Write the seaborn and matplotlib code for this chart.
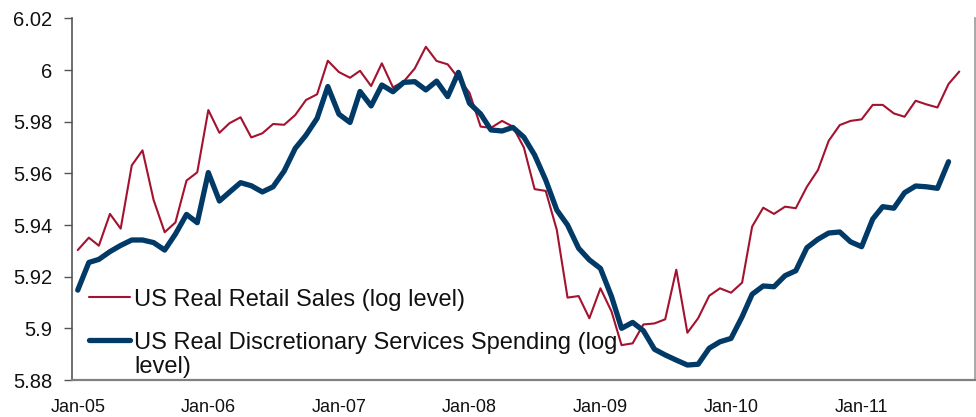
import numpy as np
import pandas as pd
import matplotlib
matplotlib.use("Agg")
import matplotlib.pyplot as plt
import matplotlib.dates as mdates
from matplotlib.ticker import FuncFormatter, FixedLocator
import seaborn as sns

# Monthly log levels, starting Jan 2005
retail_sales = [
    5.9303, 5.9351, 5.9320, 5.9443, 5.9386, 5.9631, 5.9689, 5.9497, 5.9372, 5.9410,
    5.9572, 5.9604, 5.9845, 5.9757, 5.9794, 5.9817, 5.9739, 5.9755, 5.9791, 5.9788,
    5.9826, 5.9884, 5.9906, 6.0036, 5.9992, 5.9970, 5.9997, 5.9938, 6.0026, 5.9933,
    5.9955, 6.0006, 6.0090, 6.0035, 6.0022, 5.9969, 5.9912, 5.9781, 5.9776, 5.9803,
    5.9781, 5.9700, 5.9539, 5.9532, 5.9381, 5.9119, 5.9125, 5.9039, 5.9155, 5.9065,
    5.8935, 5.8942, 5.9015, 5.9019, 5.9035, 5.9227, 5.8983, 5.9039, 5.9126, 5.9155,
    5.9138, 5.9177, 5.9394, 5.9467, 5.9443, 5.9471, 5.9465, 5.9548, 5.9613, 5.9726,
    5.9787, 5.9803, 5.9809, 5.9865, 5.9865, 5.9832, 5.9819, 5.9881, 5.9867, 5.9855,
    5.9946, 5.9994,
]
discretionary_services = [
    5.9148, 5.9255, 5.9267, 5.9297, 5.9321, 5.9342, 5.9342, 5.9332, 5.9303, 5.9365,
    5.9441, 5.9409, 5.9603, 5.9493, 5.9527, 5.9564, 5.9552, 5.9528, 5.9548, 5.9609,
    5.9697, 5.9748, 5.9813, 5.9936, 5.9829, 5.9797, 5.9917, 5.9861, 5.9942, 5.9916,
    5.9952, 5.9955, 5.9923, 5.9957, 5.9897, 5.9991, 5.9871, 5.9830, 5.9768, 5.9764,
    5.9778, 5.9740, 5.9671, 5.9574, 5.9458, 5.9400, 5.9310, 5.9265, 5.9232, 5.9123,
    5.9000, 5.9023, 5.8991, 5.8919, 5.8897, 5.8877, 5.8858, 5.8861, 5.8923, 5.8948,
    5.8961, 5.9045, 5.9132, 5.9164, 5.9161, 5.9204, 5.9223, 5.9312, 5.9345, 5.9369,
    5.9373, 5.9335, 5.9316, 5.9423, 5.9471, 5.9465, 5.9525, 5.9551, 5.9548, 5.9542,
    5.9645,
]
retail_label = "US Real Retail Sales (log level)"
services_label = "US Real Discretionary Services Spending (log\nlevel)"
y_ticks = [5.88, 5.90, 5.92, 5.94, 5.96, 5.98, 6.00, 6.02]
x_tick_years = [2005, 2006, 2007, 2008, 2009, 2010, 2011]

retail_df = pd.DataFrame({
    "date": pd.date_range("2005-01-01", periods=len(retail_sales), freq="MS"),
    "value": retail_sales,
})
services_df = pd.DataFrame({
    "date": pd.date_range("2005-01-01", periods=len(discretionary_services), freq="MS"),
    "value": discretionary_services,
})

sns.set_theme(style="white")
plt.rcParams["font.family"] = ["Liberation Sans", "DejaVu Sans"]

fig = plt.figure(figsize=(9.76, 4.17), dpi=100)
ax = fig.add_axes([0.0738, 0.0887, 0.9252, 0.8673])

red = "#A3122F"
navy = "#013A67"
sns.lineplot(data=retail_df, x="date", y="value", ax=ax, color=red,
             linewidth=1.5, label=retail_label)
sns.lineplot(data=services_df, x="date", y="value", ax=ax, color=navy,
             linewidth=3.8, label=services_label)

ax.set_ylim(5.88, 6.02)
ax.set_xlim(pd.Timestamp("2004-12-16"), pd.Timestamp("2011-11-14"))
ax.yaxis.set_major_locator(FixedLocator(y_ticks))
ax.yaxis.set_major_formatter(FuncFormatter(lambda v, _: f"{v:g}"))
ax.xaxis.set_major_locator(FixedLocator(
    [mdates.date2num(pd.Timestamp(f"{yr}-01-01")) for yr in x_tick_years]))
ax.xaxis.set_major_formatter(mdates.DateFormatter("%b-%y"))
ax.set_xlabel("")
ax.set_ylabel("")

ax.tick_params(axis="y", which="major", direction="out", length=6, width=1,
               color="#555555", labelsize=14.5, pad=8, left=True, labelcolor="#111111")
ax.tick_params(axis="x", which="major", length=0, labelsize=13, pad=14,
               labelcolor="#111111")

ax.spines["top"].set_visible(False)
ax.spines["left"].set_color("#555555")
ax.spines["left"].set_linewidth(1.2)
ax.spines["bottom"].set_color("#808080")
ax.spines["bottom"].set_linewidth(1.6)
ax.spines["right"].set_color("#9a9a9a")
ax.spines["right"].set_linewidth(1.2)

leg = ax.legend(loc="lower left", bbox_to_anchor=(0.0, -0.0395), frameon=False,
                fontsize=17, handlelength=1.75, handletextpad=0.18,
                labelspacing=0.89, borderaxespad=0.3)
for txt in leg.get_texts():
    txt.set_color("#111111")
    txt.set_linespacing(1.12)

# keep the thick handle level with the first line of its two-line label
services_handle = leg.legend_handles[1]
services_handle.set_ydata(np.asarray(services_handle.get_ydata()) + 11)

fig.savefig("out.png", dpi=100)
